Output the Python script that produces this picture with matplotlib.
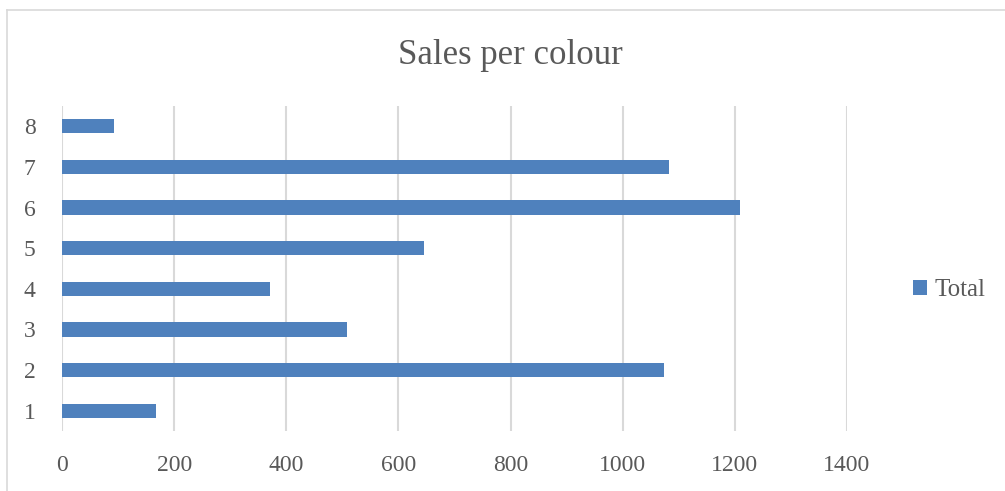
import matplotlib.pyplot as plt
from matplotlib.lines import Line2D

# Data
categories = ['1', '2', '3', '4', '5', '6', '7', '8']
totals = [168, 1073, 508, 371, 646, 1209, 1083, 92]
xticks = [0, 200, 400, 600, 800, 1000, 1200, 1400]

plt.rcParams['font.family'] = ['Liberation Serif', 'DejaVu Serif']
grey = '#595959'

fig = plt.figure(figsize=(10.05, 4.91), dpi=100)
ax = fig.add_axes([62/1005, 1-431/491, 785/1005, 325/491])

pos = range(1, len(categories)+1)
ax.barh(pos, totals, height=0.35, color='#4F81BD', label='Total', zorder=3)

ax.set_xlim(0, 1400)
ax.set_ylim(0.5, len(categories)+0.5)
ax.set_xticks(xticks)
ax.set_yticks(list(pos))
ax.set_yticklabels(categories)
ax.grid(axis='x', color='#d9d9d9', linewidth=1.5, zorder=0)
ax.tick_params(length=0, labelsize=17, labelcolor=grey)
ax.tick_params(axis='x', pad=17)
ax.tick_params(axis='y', pad=19)
for s in ax.spines.values():
	s.set_visible(False)

fig.text(510/1005, 1-55/491, 'Sales per colour', ha='center', va='center', fontsize=25, color=grey)

fig.legend(loc='center left', bbox_to_anchor=(913/1005, 1-290/491), frameon=False,
	borderpad=0, borderaxespad=0,
	handlelength=0.56, handleheight=0.56, handletextpad=0.3, fontsize=18, labelcolor=grey)

# chart border (top and left edges visible)
fig.add_artist(Line2D([7/1005, 1], [1-10/491, 1-10/491], transform=fig.transFigure, color='#d9d9d9', linewidth=1.2))
fig.add_artist(Line2D([7/1005, 7/1005], [0, 1-10/491], transform=fig.transFigure, color='#d9d9d9', linewidth=1.2))

fig.savefig('out.png', dpi=100)
